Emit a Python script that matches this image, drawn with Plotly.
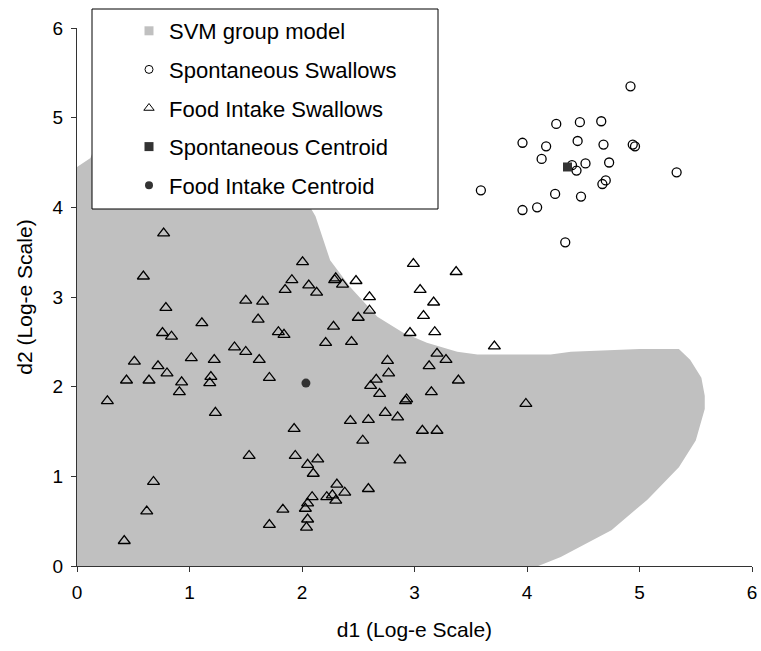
import plotly.graph_objects as go

# SVM group model region boundary (d1, d2)
svm_x = [0.0, 0.0, 0.06, 0.12, 0.15, 0.5, 1.0, 1.5, 1.85, 2.05, 2.12, 2.25, 2.43, 2.67, 2.9, 3.11, 3.38, 3.56,
         4.21, 4.39, 5.0, 5.35, 5.45, 5.55, 5.58, 5.58, 5.5, 5.35, 5.07, 4.75, 4.3, 4.1, 0.0]
svm_y = [0.0, 4.45, 4.5, 4.55, 4.65, 4.85, 4.8, 4.55, 4.25, 4.05, 3.9, 3.41, 3.11, 2.78, 2.6, 2.49, 2.39, 2.36,
         2.36, 2.39, 2.42, 2.42, 2.3, 2.1, 1.9, 1.75, 1.4, 1.1, 0.74, 0.40, 0.10, 0.0, 0.0]

# Spontaneous swallows
spont_x = [4.92, 4.26, 4.47, 4.66, 3.96, 4.17, 4.45, 4.68, 4.94, 4.96, 4.13, 4.52, 4.73, 4.40, 4.44,
           5.33, 4.70, 4.67, 3.59, 4.25, 4.48, 4.09, 3.96, 4.34]
spont_y = [5.35, 4.93, 4.95, 4.96, 4.72, 4.68, 4.74, 4.70, 4.70, 4.68, 4.54, 4.49, 4.50, 4.47, 4.41,
           4.39, 4.30, 4.26, 4.19, 4.15, 4.12, 4.00, 3.97, 3.61]

# Food intake swallows
food_x = [0.77, 0.59, 2.005, 1.91, 1.85, 2.06, 2.13, 0.79, 1.50, 1.65, 1.61, 1.11, 0.76, 0.84, 1.79, 1.84,
          1.40, 1.50, 1.016, 1.22, 1.62, 0.51, 0.72, 0.80, 0.44, 0.64, 0.93, 1.19, 1.18, 1.71, 0.91, 0.27,
          1.23, 1.93, 1.53, 1.94, 2.05, 2.14, 2.10, 0.68, 2.09, 2.05, 2.03, 1.83, 0.62, 2.05, 1.71, 2.04, 0.42,
          2.30, 2.29, 2.36, 2.48, 2.99, 3.37, 3.05, 2.60, 2.60, 3.17, 2.50, 3.08, 2.28, 2.96, 3.18, 2.21, 2.44,
          3.71, 3.20, 3.28, 2.76, 3.13, 2.77, 3.39, 2.66, 2.61, 2.69, 3.15, 2.93, 2.92, 3.99,
          2.74, 2.43, 2.59, 2.85, 3.07, 3.20, 2.54, 2.87, 2.31, 2.38, 2.59, 2.22, 2.27, 2.30]
food_y = [3.71, 3.23, 3.39, 3.19, 3.08, 3.13, 3.05, 2.88, 2.96, 2.95, 2.75, 2.71, 2.60, 2.56, 2.61, 2.58,
          2.44, 2.39, 2.32, 2.30, 2.30, 2.28, 2.23, 2.15, 2.07, 2.07, 2.05, 2.11, 2.04, 2.10, 1.94, 1.84,
          1.71, 1.53, 1.23, 1.23, 1.13, 1.19, 1.03, 0.94, 0.77, 0.70, 0.64, 0.63, 0.61, 0.52, 0.46, 0.43, 0.28,
          3.21, 3.19, 3.14, 3.18, 3.37, 3.28, 3.08, 3.00, 2.85, 2.94, 2.77, 2.79, 2.67, 2.60, 2.61, 2.49, 2.50,
          2.45, 2.37, 2.30, 2.29, 2.23, 2.15, 2.07, 2.08, 2.01, 1.92, 1.94, 1.86, 1.84, 1.81,
          1.71, 1.62, 1.63, 1.66, 1.51, 1.51, 1.40, 1.18, 0.91, 0.82, 0.86, 0.77, 0.79, 0.73]

spont_centroid_x = [4.36]
spont_centroid_y = [4.45]
food_centroid_x = [2.035]
food_centroid_y = [2.04]

legend_names = ["SVM group model", "Spontaneous Swallows", "Food Intake Swallows",
                "Spontaneous Centroid", "Food Intake Centroid"]

GRAY = "#c0c0c0"
DARK = "#333333"
FONT = "Liberation Sans, Arial, sans-serif"

fig = go.Figure()

fig.add_trace(go.Scatter(x=svm_x, y=svm_y, fill="toself", fillcolor=GRAY, mode="none",
                         line=dict(width=0), showlegend=False, hoverinfo="skip"))
fig.add_trace(go.Scatter(x=food_x, y=food_y, mode="markers", showlegend=False,
                         marker=dict(symbol="triangle-up-open", size=10.5, color="black", line=dict(width=1.3))))
fig.add_trace(go.Scatter(x=spont_x, y=spont_y, mode="markers", showlegend=False,
                         marker=dict(symbol="circle-open", size=9, color="black", line=dict(width=1.3))))
fig.add_trace(go.Scatter(x=spont_centroid_x, y=spont_centroid_y, mode="markers", showlegend=False,
                         marker=dict(symbol="square", size=9, color=DARK)))
fig.add_trace(go.Scatter(x=food_centroid_x, y=food_centroid_y, mode="markers", showlegend=False,
                         marker=dict(symbol="circle", size=9, color=DARK)))

# legend entries
legend_markers = [
    dict(symbol="square", size=9, color=GRAY),
    dict(symbol="circle-open", size=8, color="black", line=dict(width=1)),
    dict(symbol="triangle-up-open", size=9, color="black", line=dict(width=1)),
    dict(symbol="square", size=9, color=DARK),
    dict(symbol="circle", size=8, color=DARK),
]
for i, (name, mk) in enumerate(zip(legend_names, legend_markers)):
    fig.add_trace(go.Scatter(x=[None], y=[None], mode="markers", name=name, marker=mk,
                             legendgroup=f"g{i}", showlegend=True))

fig.add_shape(type="rect", xref="paper", yref="paper", x0=(92 - 77) / 675, x1=(438 - 77) / 675,
              y0=(566 - 209) / 538, y1=1 + (28 - 9) / 538,
              line=dict(color="black", width=1), fillcolor="white", layer="above")

axis_common = dict(showgrid=False, zeroline=False, showline=True, linecolor="#333333", linewidth=1,
                   ticks="outside", ticklen=5, tickcolor="#333333", tickwidth=1,
                   tickfont=dict(family=FONT, size=19, color="black"), automargin=False,
                   layer="below traces", dtick=1, tick0=0, ticklabelstandoff=4)

fig.update_layout(
    width=761, height=651,
    margin=dict(l=77, r=9, t=28, b=85),
    paper_bgcolor="white", plot_bgcolor="white",
    font=dict(family=FONT, size=19, color="black"),
    xaxis=dict(range=[0, 6], title=dict(text="d1 (Log-e Scale)", font=dict(family=FONT, size=21), standoff=20),
               **axis_common),
    yaxis=dict(range=[0, 6], title=dict(text="d2 (Log-e Scale)", font=dict(family=FONT, size=21), standoff=14),
               **axis_common),
    legend=dict(x=(129 - 77) / 675, y=1 + (28 - 10) / 538, xanchor="left", yanchor="top",
                bgcolor="rgba(0,0,0,0)", borderwidth=0, tracegroupgap=7,
                font=dict(family=FONT, size=22, color="black")),
)

fig.write_html("out.html", config={"displayModeBar": False},
               post_script="document.body.style.margin='0';")
